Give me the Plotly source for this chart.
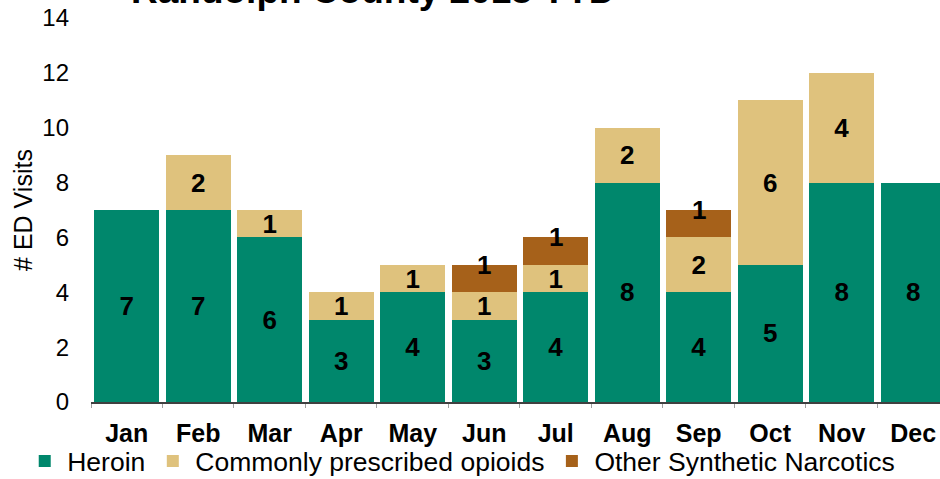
import plotly.graph_objects as go

months = ["Jan", "Feb", "Mar", "Apr", "May", "Jun", "Jul", "Aug", "Sep", "Oct", "Nov", "Dec"]
heroin = [7, 7, 6, 3, 4, 3, 4, 8, 4, 5, 8, 8]
prescribed = [0, 2, 1, 1, 1, 1, 1, 2, 2, 6, 4, 0]
synthetic = [0, 0, 0, 0, 0, 1, 1, 0, 1, 0, 0, 0]
series_names = ["Heroin", "Commonly prescribed opioids", "Other Synthetic Narcotics"]
colors = ["#00876C", "#DFC27D", "#A6611A"]
title_text = "Randolph County 2018 YTD"

FONT = "Arial, Liberation Sans, sans-serif"
LABEL_SIZE = 26

fig = go.Figure()
for i, (name, vals, col) in enumerate(zip(series_names, [heroin, prescribed, synthetic], colors)):
    show_text = i < 2
    fig.add_trace(go.Bar(
        x=months, y=vals, name=name,
        marker=dict(color=col, line=dict(width=0)),
        text=[str(v) if (v and show_text) else "" for v in vals],
        textposition="inside", insidetextanchor="middle", textangle=0,
        textfont=dict(family=FONT, size=LABEL_SIZE, color="black", weight="bold"),
        constraintext="none",
        hoverinfo="skip",
    ))

# labels of the top segment sit centred on the segment's upper edge
annotations = []
for m, h, p, s in zip(months, heroin, prescribed, synthetic):
    if s:
        annotations.append(dict(
            x=m, y=h + p + s, xref="x", yref="y", text="<b>%d</b>" % s,
            showarrow=False, xanchor="center", yanchor="middle",
            font=dict(family=FONT, size=LABEL_SIZE, color="black")))

annotations.append(dict(text="<b>" + title_text + "</b>", xref="paper", yref="paper",
                        x=0.333, y=1.0, xanchor="center", yanchor="bottom", yshift=5,
                        showarrow=False, font=dict(size=37, family=FONT, color="black")))

fig.update_layout(
    barmode="stack", bargap=0.09,
    width=940, height=479,
    margin=dict(l=91, r=0, t=18, b=77, autoexpand=False),
    paper_bgcolor="white", plot_bgcolor="white",
    font=dict(family=FONT, color="black"),
    uniformtext=dict(minsize=LABEL_SIZE, mode="show"),
    showlegend=True,
    legend=dict(orientation="h", x=-0.081, xanchor="left", y=-0.092, yanchor="top",
                font=dict(size=26.5, family=FONT), traceorder="normal",
                itemwidth=35, tracegroupgap=0, bgcolor="rgba(0,0,0,0)"),
    annotations=annotations,
)
fig.update_xaxes(
    range=[-0.5, 11.375], showline=True, linecolor="#404040", linewidth=1.5,
    ticks="outside", tickson="boundaries", ticklen=4, tickcolor="#A0A0A0",
    tickfont=dict(size=25, family=FONT, weight="bold", color="black"),
    ticklabelstandoff=8, showgrid=False, zeroline=False, automargin=False,
)
fig.update_yaxes(
    range=[0, 14], dtick=2, showgrid=False, zeroline=False, showline=False,
    tickfont=dict(size=24, family=FONT, color="black"),
    ticks="", ticklabelstandoff=21, automargin=False,
    title=dict(text="# ED Visits", font=dict(size=25, family=FONT), standoff=2),
)

fig.write_html(
    "out.html",
    config={"displayModeBar": False},
    post_script="document.body.style.margin='0';document.body.style.overflow='hidden';",
)
